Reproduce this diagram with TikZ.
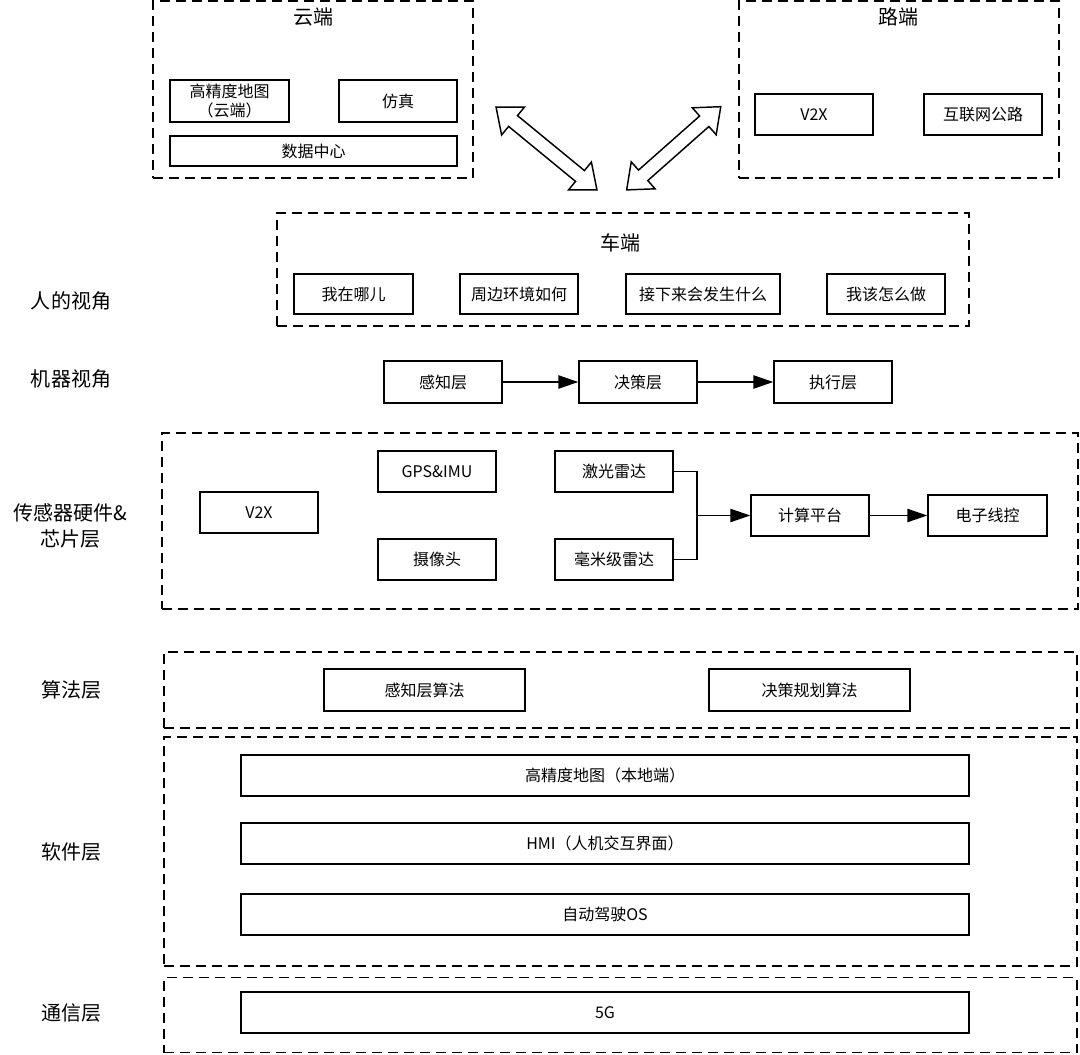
\documentclass[tikz,border=0pt]{standalone}
\usepackage{fontspec}
\setmainfont{Noto Sans CJK SC}
\usetikzlibrary{arrows.meta}
\begin{document}
\begin{tikzpicture}[x=0.75pt,y=-0.75pt,
 box/.style={draw, line width=1.1pt, inner sep=0pt, align=center, font=\fontsize{12}{14}\selectfont},
 sz/.style 2 args={minimum width=#1*0.75pt, minimum height=#2*0.75pt},
 dbox/.style={draw, line width=1.4pt, dash pattern=on 7.5pt off 4.5pt, inner sep=0pt},
 lbl/.style={font=\fontsize{15}{20}\selectfont, align=center},
 ttl/.style={font=\fontsize{15}{18}\selectfont},
 arr/.style={line width=1.1pt, -{Triangle[length=15pt,width=10pt]}},
 conn/.style={line width=1.1pt},
 blk/.style={draw, line width=1.1pt, fill=white, line join=miter}]

\useasboundingbox (0,0) rectangle (1080,1055);

% cloud
\node[dbox, sz={320}{177}] (cloud) at (313,89.5) {};
\node[ttl] (cloudt) at (313,17) {云端};
\node[box, sz={119}{42}] (chd) at (229.5,101) {高精度地图\\（云端）};
\node[box, sz={118}{42}] (csim) at (398,101) {仿真};
\node[box, sz={287}{30}] (cdc) at (313.5,151) {数据中心};

% road
\node[dbox, sz={320}{177}] (road) at (899,89.5) {};
\node[ttl] (roadt) at (898,17) {路端};
\node[box, sz={118}{41}] (rv2x) at (814,114.5) {V2X};
\node[box, sz={118}{41}] (rnet) at (983,114.5) {互联网公路};

% double block arrows
\begin{scope}[shift={(546.5,148.5)}, rotate=-39.4]
\draw[blk] (-65.3,0) -- (-43.3,-18) -- (-43.3,-7) -- (43.3,-7) -- (43.3,-18) -- (65.3,0)
 -- (43.3,18) -- (43.3,7) -- (-43.3,7) -- (-43.3,18) -- cycle;
\end{scope}
\begin{scope}[shift={(673.7,148.3)}, rotate=41.5]
\draw[blk] (-62.8,0) -- (-40.8,-18) -- (-40.8,-7) -- (40.8,-7) -- (40.8,-18) -- (62.8,0)
 -- (40.8,18) -- (40.8,7) -- (-40.8,7) -- (-40.8,18) -- cycle;
\end{scope}

% car
\node[dbox, sz={692}{113}] (car) at (623,269.5) {};
\node[ttl] (cart) at (620,243) {车端};
\node[box, sz={119}{40}] (q1) at (353.5,294) {我在哪儿};
\node[box, sz={118}{40}] (q2) at (519,294) {周边环境如何};
\node[box, sz={154}{40}] (q3) at (703,294) {接下来会发生什么};
\node[box, sz={118}{40}] (q4) at (886,294) {我该怎么做};

% machine
\node[box, sz={118}{42}] (gz) at (443,382) {感知层};
\node[box, sz={118}{42}] (jc) at (638,382) {决策层};
\node[box, sz={118}{42}] (zx) at (833,382) {执行层};
\draw[arr] (gz) -- (jc);
\draw[arr] (jc) -- (zx);

% sensors
\node[dbox, sz={916}{176}] (sens) at (620,521) {};
\node[box, sz={118}{41}] (sv2x) at (259,512.5) {V2X};
\node[box, sz={118}{41}] (gps) at (437,471.5) {GPS\&IMU};
\node[box, sz={118}{41}] (cam) at (437,559.5) {摄像头};
\node[box, sz={118}{41}] (lidar) at (614,471.5) {激光雷达};
\node[box, sz={118}{41}] (mmw) at (614,559.5) {毫米级雷达};
\node[box, sz={118}{41}] (comp) at (810,515.5) {计算平台};
\node[box, sz={119}{41}] (wire) at (987.5,515.5) {电子线控};
\coordinate (mrg) at (697,515.5);
\draw[conn] (lidar.east) -| (mrg);
\draw[conn] (mmw.east) -| (mrg);
\draw[arr] (mrg) -- (comp.west);
\draw[arr] (comp) -- (wire);

% algorithm
\node[dbox, sz={913}{76}] (alg) at (620.5,690) {};
\node[box, sz={201}{42}] (a1) at (424.5,690) {感知层算法};
\node[box, sz={201}{42}] (a2) at (809.5,690) {决策规划算法};

% software
\node[dbox, sz={913}{229}] (soft) at (620.5,851.5) {};
\node[box, sz={728}{41}] (s1) at (605,775.5) {高精度地图（本地端）};
\node[box, sz={728}{41}] (s2) at (605,843.5) {HMI（人机交互界面）};
\node[box, sz={728}{41}] (s3) at (605,914.5) {自动驾驶OS};

% communication
\node[dbox, sz={913}{75}] (comm) at (620.5,1015) {};
\node[box, sz={728}{41}] (g5) at (605,1012.5) {5G};

% left labels
\node[lbl] (l1) at (71,301) {人的视角};
\node[lbl] (l2) at (71,379) {机器视角};
\node[lbl] (l3) at (70,526) {传感器硬件\&\\芯片层};
\node[lbl] (l4) at (71,690) {算法层};
\node[lbl] (l5) at (71,852) {软件层};
\node[lbl] (l6) at (71,1013) {通信层};
\end{tikzpicture}
\end{document}
